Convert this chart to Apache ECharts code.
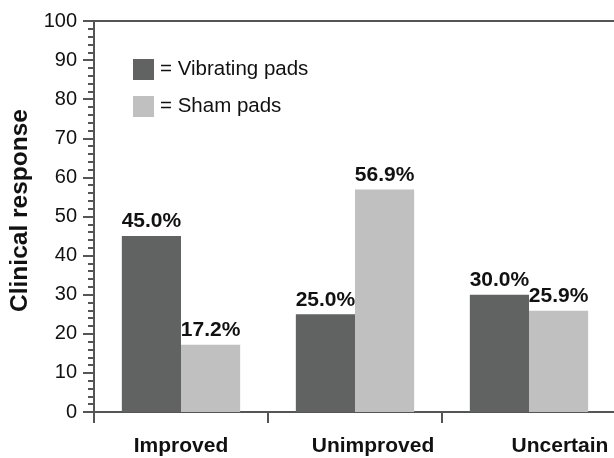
<!DOCTYPE html>
<html>
<head>
<meta charset="utf-8">
<script src="https://cdn.jsdelivr.net/npm/echarts@6/dist/echarts.min.js"></script>
<style>
html,body{margin:0;padding:0;background:#fff;}
#chart{width:614px;height:458px;}
</style>
</head>
<body>
<div id="chart"></div>
<script>
var categories = ['Improved', 'Unimproved', 'Uncertain'];
var vibratingPads = [45.0, 25.0, 30.0];
var shamPads = [17.2, 56.9, 25.9];
var seriesNames = ['Vibrating pads', 'Sham pads'];
var yTicks = {min: 0, max: 100, interval: 10};
var labelShift = [0, 36, 62];

var FONT = '"Liberation Sans", Arial, Helvetica, sans-serif';
var AX = '#555555';

var chart = echarts.init(document.getElementById('chart'), null, {renderer: 'canvas'});

var catData = categories.map(function (c, i) {
  return {value: c, textStyle: {padding: [0, 0, 0, labelShift[i]]}};
});

var labelCfg = {
  show: true,
  position: 'top',
  distance: 4,
  color: '#111',
  fontFamily: FONT,
  fontWeight: 'bold',
  fontSize: 21,
  formatter: function (p) { return p.value.toFixed(1) + '%'; }
};

chart.setOption({
  animation: false,
  backgroundColor: '#ffffff',
  textStyle: {fontFamily: FONT},
  grid: {left: 94, right: -2, top: 21, bottom: 46, outerBoundsMode: 'none', containLabel: false},
  legend: {
    orient: 'vertical',
    left: 128,
    top: 54,
    itemWidth: 21,
    itemHeight: 21,
    itemGap: 16,
    icon: 'rect',
    data: seriesNames,
    formatter: function (n) { return '= ' + n; },
    textStyle: {fontFamily: FONT, fontSize: 20.5, color: '#111', padding: [0, 0, 0, 1]}
  },
  xAxis: [{
    type: 'category',
    data: catData,
    axisLine: {lineStyle: {color: AX, width: 2}},
    axisTick: {show: true, length: 11, lineStyle: {color: AX, width: 2}},
    axisLabel: {margin: 24, fontFamily: FONT, fontWeight: 'bold', fontSize: 21, color: '#111'}
  }, {
    type: 'category',
    position: 'top',
    data: categories,
    axisLine: {show: true, lineStyle: {color: AX, width: 2}},
    axisTick: {show: false},
    axisLabel: {show: false}
  }],
  yAxis: {
    type: 'value',
    min: yTicks.min,
    max: yTicks.max,
    interval: yTicks.interval,
    name: 'Clinical response',
    nameLocation: 'middle',
    nameGap: 56,
    nameTextStyle: {fontFamily: FONT, fontWeight: 'bold', fontSize: 24.5, color: '#111', padding: [0, 0, 0, 12]},
    axisLine: {show: true, lineStyle: {color: AX, width: 2}},
    axisTick: {show: true, length: 11, lineStyle: {color: AX, width: 2}},
    minorTick: {show: true, splitNumber: 5, length: 6, lineStyle: {color: AX, width: 2}},
    splitLine: {show: false},
    axisLabel: {margin: 17, fontFamily: FONT, fontSize: 20, color: '#111'}
  },
  series: [{
    name: seriesNames[0],
    type: 'bar',
    data: vibratingPads,
    barWidth: '34%',
    barGap: '0%',
    itemStyle: {color: '#616362'},
    label: labelCfg
  }, {
    name: seriesNames[1],
    type: 'bar',
    data: shamPads,
    barWidth: '34%',
    barGap: '0%',
    itemStyle: {color: '#c0c0c0'},
    label: labelCfg
  }]
});
</script>
</body>
</html>
